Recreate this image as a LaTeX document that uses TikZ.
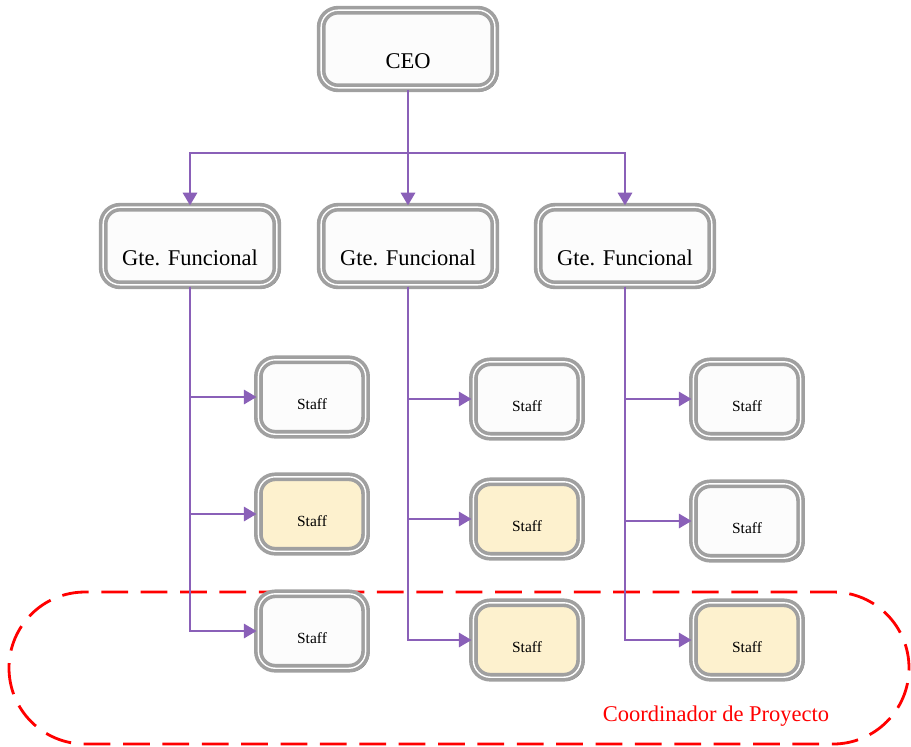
\documentclass[tikz,border=0pt]{standalone}
\usepackage{fontspec}
\setmainfont{Liberation Serif}
\usetikzlibrary{arrows.meta,shadows}

\definecolor{linkpurple}{RGB}{138,96,184}
\definecolor{staffyellow}{RGB}{253,241,206}
\definecolor{boxgray}{RGB}{160,160,160}

\tikzset{
	box/.style={rounded corners=12pt, draw=boxgray, double=white, double distance=1pt,
		line width=2.6pt, fill=white!98!gray,
		general shadow={draw=black!80, fill=none, line width=2.8pt, shadow xshift=1.2pt, shadow yshift=-1.2pt}},
	bossbox/.style={box, minimum width=4.34cm, minimum height=1.94cm,
		font=\fontsize{16}{18}\selectfont, text height=31pt, text depth=3pt},
	staffbox/.style={box, minimum width=2.68cm, minimum height=1.86cm,
		font=\fontsize{11}{13}\selectfont, text height=19.6pt, text depth=2pt},
	hl/.style={fill=staffyellow},
	link/.style={draw=linkpurple, line width=2pt},
	arr/.style={link, -{Triangle[length=9pt,width=10pt]}},
	coordbox/.style={draw=red, line width=2pt, dash pattern=on 19pt off 9pt, rounded corners=1.9cm}
}

\begin{document}
\begin{tikzpicture}[x=0.025cm, y=-0.025cm]
		
		\useasboundingbox (0,0) rectangle (911,746);
		
		%%% project coordinator (behind the boxes)
		\draw[coordbox] (9,592) rectangle (909,744);
		\node[text=red, font=\fontsize{16}{18}\selectfont] (coord) at (716,716) {Coordinador de Proyecto};
		
		%%% top
		\node[bossbox] (ceo) at (408,49) {CEO};
		
		%%% managers
		\node[bossbox] (g1) at (190,246) {Gte. Funcional};
		\node[bossbox] (g2) at (408,246) {Gte. Funcional};
		\node[bossbox] (g3) at (625,246) {Gte. Funcional};
		
		%%% staff, column 1
		\node[staffbox] (s11) at (312,397) {Staff};
		\node[staffbox, hl] (s12) at (312,514) {Staff};
		\node[staffbox] (s13) at (312,631) {Staff};
		
		%%% staff, column 2
		\node[staffbox] (s21) at (527,399) {Staff};
		\node[staffbox, hl] (s22) at (527,519) {Staff};
		\node[staffbox, hl] (s23) at (527,640) {Staff};
		
		%%% staff, column 3
		\node[staffbox] (s31) at (747,399) {Staff};
		\node[staffbox] (s32) at (747,521) {Staff};
		\node[staffbox, hl] (s33) at (747,640) {Staff};
		
		%%% ceo -> managers
		\coordinate (split) at (408,153);
		\draw[link] (ceo) -- (split);
		\draw[arr] (split) -| (g1);
		\draw[arr] (split) -- (g2);
		\draw[arr] (split) -| (g3);
		
		%%% managers -> staff
		\draw[arr] (g1) |- (s11);
		\draw[arr] (g1) |- (s12);
		\draw[arr] (g1) |- (s13);
		
		\draw[arr] (g2) |- (s21);
		\draw[arr] (g2) |- (s22);
		\draw[arr] (g2) |- (s23);
		
		\draw[arr] (g3) |- (s31);
		\draw[arr] (g3) |- (s32);
		\draw[arr] (g3) |- (s33);
		
	\end{tikzpicture}
\end{document}
